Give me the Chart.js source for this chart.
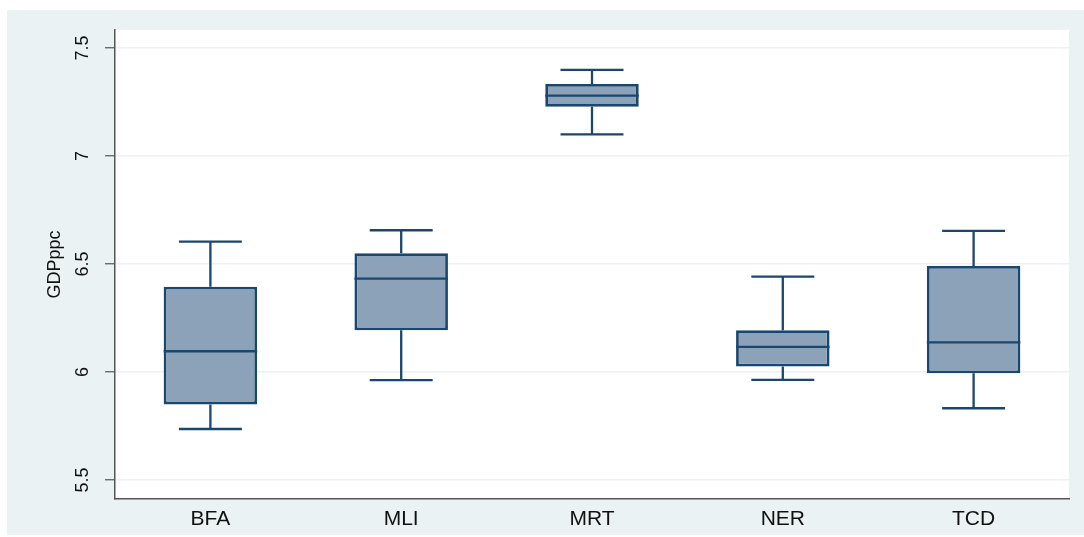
<!DOCTYPE html>
<html>
<head>
<meta charset="utf-8">
<script src="https://cdn.jsdelivr.net/npm/chart.js@4.4.1/dist/chart.umd.min.js"></script>
<style>
  html, body { margin: 0; padding: 0; background: #ffffff; }
  #wrap { width: 1084px; height: 537px; }
</style>
</head>
<body>
<div id="wrap"><canvas id="caja"></canvas></div>
<script>
// paises y estadisticos del box plot (GDPppc)
const paises = ['BFA', 'MLI', 'MRT', 'NER', 'TCD'];
const minimos = [5.736, 5.962, 7.100, 5.963, 5.832];
const cuartil1 = [5.850, 6.193, 7.228, 6.025, 5.994];
const medianas = [6.096, 6.432, 7.279, 6.116, 6.137];
const cuartil3 = [6.395, 6.550, 7.333, 6.193, 6.491];
const maximos = [6.603, 6.656, 7.398, 6.441, 6.653];
const ticksY = [5.5, 6, 6.5, 7, 7.5];
const etiquetasY = ['5.5', '6', '6.5', '7', '7.5'];

const azul = '#1a476f';
const relleno = '#8ca2b8';
const fondo = '#eaf2f3';

var cajas = [];
for (let i = 0; i < paises.length; i++) {
    cajas.push([cuartil1[i], cuartil3[i]]);
}

// fondo gris-azulado y area blanca del grafico
const fondoPlugin = {
    id: 'fondo',
    beforeDraw(chart) {
        const ctx = chart.ctx;
        const a = chart.chartArea;
        ctx.save();
        ctx.fillStyle = '#ffffff';
        ctx.fillRect(0, 0, chart.width, chart.height);
        ctx.fillStyle = fondo;
        ctx.fillRect(7, 10, chart.width - 7, chart.height - 12);
        ctx.fillStyle = '#ffffff';
        ctx.fillRect(a.left, a.top, a.right - a.left, a.bottom - a.top);
        ctx.restore();
    }
};

// bigotes y medianas, usando las escalas del grafico
const bigotesPlugin = {
    id: 'bigotes',
    afterDatasetsDraw(chart) {
        const ctx = chart.ctx;
        const x = chart.scales.x;
        const y = chart.scales.y;
        const ancho = x.width / paises.length;
        const tapa = ancho * 0.33 / 2;
        const mitadCaja = ancho * 0.49 / 2;
        ctx.save();
        ctx.strokeStyle = azul;
        ctx.lineCap = 'butt';
        for (let i = 0; i < paises.length; i++) {
            const cx = x.getPixelForValue(i);
            ctx.lineWidth = 2.3;
            ctx.beginPath();
            ctx.moveTo(cx, y.getPixelForValue(cuartil3[i]));
            ctx.lineTo(cx, y.getPixelForValue(maximos[i]));
            ctx.moveTo(cx, y.getPixelForValue(cuartil1[i]));
            ctx.lineTo(cx, y.getPixelForValue(minimos[i]));
            ctx.moveTo(cx - tapa, y.getPixelForValue(maximos[i]));
            ctx.lineTo(cx + tapa, y.getPixelForValue(maximos[i]));
            ctx.moveTo(cx - tapa, y.getPixelForValue(minimos[i]));
            ctx.lineTo(cx + tapa, y.getPixelForValue(minimos[i]));
            ctx.stroke();
            ctx.lineWidth = 2.3;
            ctx.beginPath();
            ctx.moveTo(cx - mitadCaja, y.getPixelForValue(medianas[i]));
            ctx.lineTo(cx + mitadCaja, y.getPixelForValue(medianas[i]));
            ctx.stroke();
        }
        ctx.restore();
    }
};

const dataCajas = {
    labels: paises,
    datasets: [{
        label: 'GDPppc',
        data: cajas,
        backgroundColor: relleno,
        borderColor: azul,
        borderWidth: 2.8,
        borderSkipped: false,
        barPercentage: 0.49,
        categoryPercentage: 1.0
    }]
};

const configCajas = {
    type: 'bar',
    data: dataCajas,
    options: {
        responsive: true,
        maintainAspectRatio: false,
        animation: false,
        layout: { padding: { left: 7, right: 15, top: 30, bottom: 0 } },
        plugins: {
            legend: { display: false },
            tooltip: { enabled: false }
        },
        scales: {
            x: {
                grid: { display: false, drawTicks: false },
                border: { display: true, color: '#555555', width: 1.5 },
                ticks: {
                    color: '#111111',
                    padding: 8,
                    font: { family: 'Liberation Sans, Arial, sans-serif', size: 21 }
                },
                afterFit(scale) { scale.height = 38; }
            },
            y: {
                min: 5.412,
                max: 7.583,
                grid: {
                    color: fondo,
                    lineWidth: 1.5,
                    drawTicks: true,
                    tickLength: 10,
                    tickColor: '#555555',
                    tickWidth: 1.2
                },
                border: { display: true, color: '#555555', width: 1.5 },
                ticks: {
                    color: '#111111',
                    padding: 9,
                    minRotation: 90,
                    maxRotation: 90,
                    crossAlign: 'center',
                    font: { family: 'Liberation Sans, Arial, sans-serif', size: 18 },
                    callback: function (value, index) {
                        return etiquetasY[index];
                    }
                },
                afterBuildTicks(scale) {
                    scale.ticks = ticksY.map(v => ({ value: v }));
                },
                afterFit(scale) { scale.width = 108; },
                title: {
                    display: true,
                    text: 'GDPppc',
                    color: '#111111',
                    padding: { top: 37, bottom: 0 },
                    font: { family: 'Liberation Sans, Arial, sans-serif', size: 18 }
                }
            }
        }
    },
    plugins: [fondoPlugin, bigotesPlugin]
};

const myChartCajas = new Chart(document.getElementById('caja'), configCajas);
</script>
</body>
</html>
